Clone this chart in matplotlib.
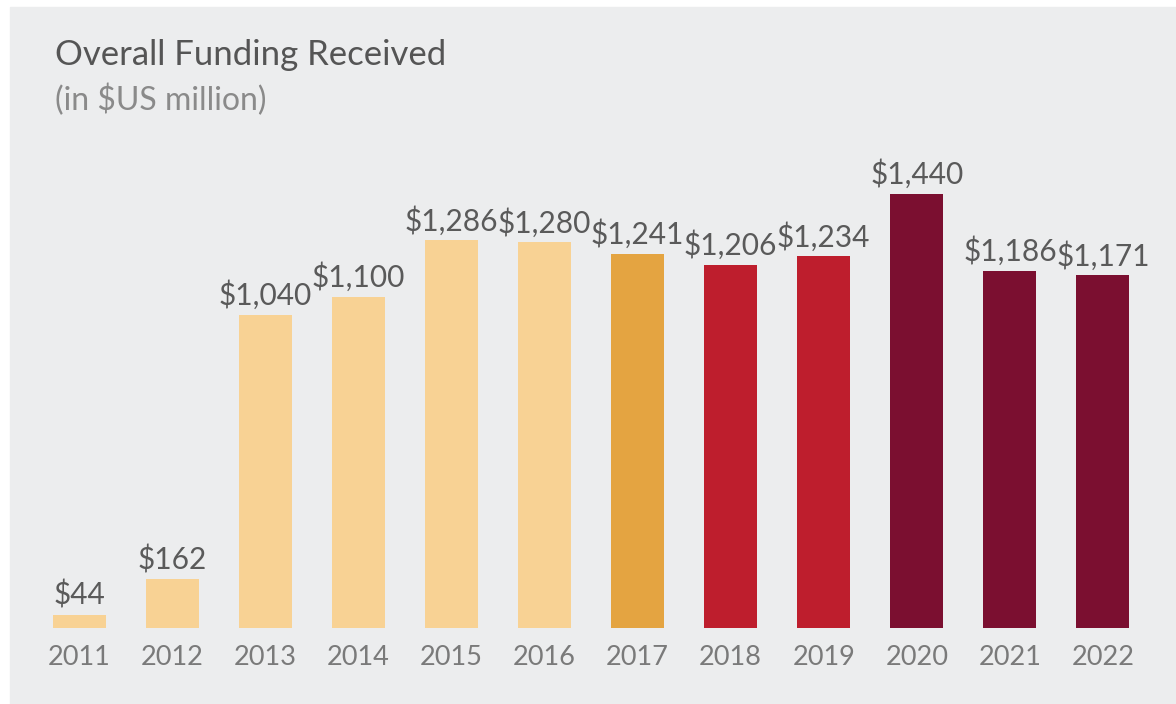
import matplotlib.pyplot as plt
from matplotlib.patches import Rectangle

# data
years = ['2011', '2012', '2013', '2014', '2015', '2016',
         '2017', '2018', '2019', '2020', '2021', '2022']
funding = [44, 162, 1040, 1100, 1286, 1280, 1241, 1206, 1234, 1440, 1186, 1171]
labels = ['$44', '$162', '$1,040', '$1,100', '$1,286', '$1,280',
          '$1,241', '$1,206', '$1,234', '$1,440', '$1,186', '$1,171']
colors = ['#F8D294'] * 6 + ['#E4A441'] + ['#BE1E2D'] * 2 + ['#7B0F30'] * 3

plt.rcParams['font.family'] = ['Lato', 'DejaVu Sans']

fig = plt.figure(figsize=(11.76, 7.04), dpi=100)
fig.patch.set_facecolor('white')
# grey panel behind the chart
fig.patches.append(Rectangle((10 / 1176, 0), 1, 1 - 7 / 704,
                             transform=fig.transFigure, color='#ECEDEE', zorder=-1))

ax = fig.add_axes([32.5 / 1176, 1 - 628 / 704, 1117 / 1176, 452 / 704])
ax.set_zorder(2)
ax.patch.set_visible(False)

x = list(range(len(years)))
ax.bar(x, funding, width=0.57, color=colors)
for xi, v, lab in zip(x, funding, labels):
    ax.text(xi, v + 16, lab, ha='center', va='bottom', fontsize=21.5, color='#5A5A5A')

ax.set_xlim(-0.5, 11.5)
ax.set_ylim(0, 1500)
ax.set_xticks(x)
ax.set_xticklabels(years, fontsize=19.5, color='#7A7A7A')
ax.tick_params(axis='x', length=0, pad=12)
ax.set_yticks([])
for s in ax.spines.values():
    s.set_visible(False)

fig.text(55 / 1176, 1 - 55 / 704, 'Overall Funding Received', fontsize=25,
         color='#555555', va='center', ha='left')
fig.text(55 / 1176, 1 - 100 / 704, '(in $US million)', fontsize=23,
         color='#8A8A8A', va='center', ha='left')

plt.savefig('out.png', dpi=100, facecolor=fig.get_facecolor())
